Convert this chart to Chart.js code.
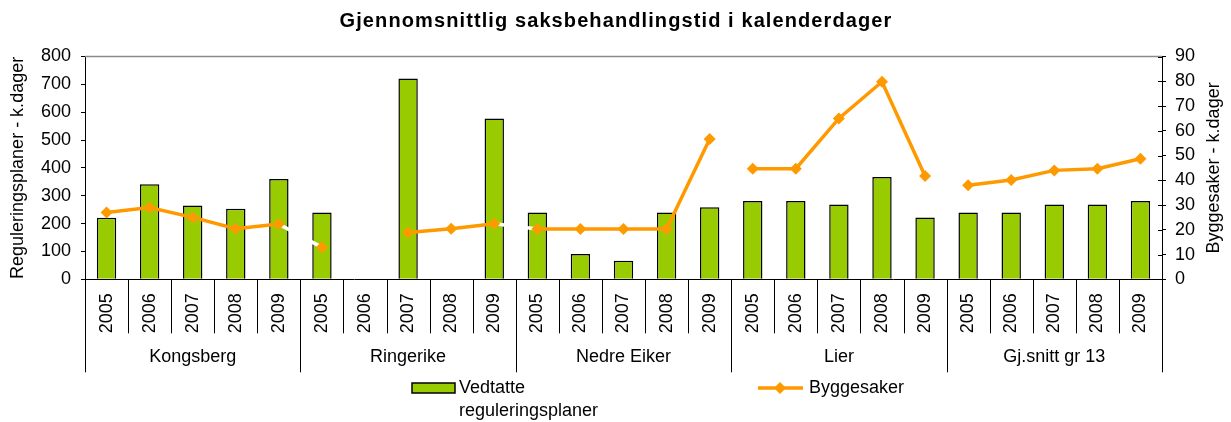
<!DOCTYPE html>
<html><head><meta charset="utf-8">
<script src="https://cdn.jsdelivr.net/npm/chart.js@4.4.1/dist/chart.umd.min.js"></script>
<style>html,body{margin:0;padding:0;background:#fff;}</style>
</head><body>
<canvas id="c" width="1231" height="422" style="display:block;width:1231px;height:422px"></canvas>
<script>
const chartTitle = 'Gjennomsnittlig saksbehandlingstid i kalenderdager';
const groups = ['Kongsberg', 'Ringerike', 'Nedre Eiker', 'Lier', 'Gj.snitt gr 13'];
const years = ['2005', '2006', '2007', '2008', '2009'];
const yearLabels = groups.flatMap(() => years);
const reguleringsplaner = [221, 341, 265, 253, 360, 240, null, 721, null, 577, 240, 91, 67, 240, 259, 281, 281, 269, 367, 222, 240, 240, 269, 269, 281];
const byggesaker = [27, 29, 25, 20.4, 22.3, 12.9, null, 18.9, 20.4, 22.4, 20.3, 20.3, 20.3, 20.3, 56.7, 44.7, 44.7, 65, 79.8, 41.7, 38, 40.1, 44, 44.7, 48.7];
const leftTitle = 'Reguleringsplaner - k.dager';
const rightTitle = 'Byggesaker - k.dager';
const legendBar = ['Vedtatte', 'reguleringsplaner'];
const legendLine = 'Byggesaker';

const FONT = '"Liberation Sans", Arial, sans-serif';
const GREEN = '#99CC00';
const ORANGE = '#FF9900';
const perGroup = years.length;

const decor = {
  id: 'decor',
  afterDraw(chart) {
    const ctx = chart.ctx;
    const ca = chart.chartArea;
    const xs = chart.scales.x;
    const y1 = chart.scales.y1;
    const half = (xs.getPixelForValue(1) - xs.getPixelForValue(0)) / 2;
    ctx.save();
    // top border
    ctx.strokeStyle = '#8a8a8a';
    ctx.lineWidth = 1.5;
    ctx.beginPath(); ctx.moveTo(ca.left, ca.top); ctx.lineTo(ca.right, ca.top); ctx.stroke();
    // right axis inner ticks
    ctx.strokeStyle = '#000'; ctx.lineWidth = 1;
    for (let v = 0; v <= 90; v += 10) {
      const py = Math.round(y1.getPixelForValue(v)) + 0.5;
      ctx.beginPath(); ctx.moveTo(ca.right - 4, py); ctx.lineTo(ca.right, py); ctx.stroke();
    }
    // category separators
    for (let i = 0; i <= yearLabels.length; i++) {
      const px = Math.round(xs.getPixelForValue(i) - half) + 0.5;
      const long = i % perGroup === 0;
      ctx.beginPath(); ctx.moveTo(px, ca.bottom); ctx.lineTo(px, ca.bottom + (long ? 93 : 54)); ctx.stroke();
    }
    // group labels
    ctx.fillStyle = '#000';
    ctx.font = '18px ' + FONT;
    ctx.textAlign = 'center'; ctx.textBaseline = 'middle';
    groups.forEach((g, gi) => {
      const a = xs.getPixelForValue(gi * perGroup) - half;
      const b = xs.getPixelForValue(gi * perGroup + perGroup - 1) + half;
      ctx.fillText(g, (a + b) / 2, ca.bottom + 78);
    });
    // right axis title
    ctx.save();
    ctx.translate(1214, (ca.top + ca.bottom) / 2);
    ctx.rotate(-Math.PI / 2);
    ctx.fillText(rightTitle, 0, 0);
    ctx.restore();
    // chart title
    ctx.font = 'bold 20px ' + FONT;
    ctx.letterSpacing = '1.1px';
    ctx.fillText(chartTitle, 616, 21);
    ctx.letterSpacing = '0px';
    // legend
    ctx.font = '18px ' + FONT;
    ctx.textAlign = 'left';
    ctx.fillStyle = GREEN; ctx.strokeStyle = '#000'; ctx.lineWidth = 1.5;
    ctx.fillRect(412, 383, 43, 10); ctx.strokeRect(412, 383, 43, 10);
    ctx.fillStyle = '#000';
    ctx.fillText(legendBar[0], 459, 388);
    ctx.fillText(legendBar[1], 459, 411);
    ctx.strokeStyle = ORANGE; ctx.lineWidth = 3.5;
    ctx.beginPath(); ctx.moveTo(758, 388); ctx.lineTo(803, 388); ctx.stroke();
    ctx.fillStyle = ORANGE;
    ctx.beginPath(); ctx.moveTo(780, 382); ctx.lineTo(786, 388); ctx.lineTo(780, 394); ctx.lineTo(774, 388); ctx.closePath(); ctx.fill();
    ctx.fillStyle = '#000';
    ctx.fillText(legendLine, 809, 388);
    ctx.restore();
  }
};

new Chart(document.getElementById('c'), {
  type: 'bar',
  data: {
    labels: yearLabels,
    datasets: [
      {
        type: 'line', label: legendLine, data: byggesaker, yAxisID: 'y1', order: 1,
        borderColor: ORANGE, borderWidth: 3.5, tension: 0, spanGaps: false,
        pointStyle: 'rectRot', pointRadius: 6, pointBackgroundColor: ORANGE, pointBorderColor: ORANGE, pointBorderWidth: 0,
        segment: {
          borderColor: c => (Math.floor(c.p0DataIndex / perGroup) !== Math.floor(c.p1DataIndex / perGroup)) ? '#ffffff' : undefined
        }
      },
      {
        type: 'bar', label: legendBar.join(' '), data: reguleringsplaner, yAxisID: 'y', order: 2,
        backgroundColor: GREEN, borderColor: '#000', borderWidth: 1.5,
        categoryPercentage: 1, barPercentage: 0.45
      }
    ]
  },
  options: {
    responsive: false,
    animation: false,
    devicePixelRatio: 1,
    layout: { padding: { top: 56.5, left: 0, right: 0, bottom: 0 } },
    plugins: { legend: { display: false }, title: { display: false }, tooltip: { enabled: false } },
    scales: {
      x: {
        type: 'category', offset: true,
        grid: { display: false, drawTicks: false },
        border: { display: true, color: '#000', width: 1 },
        ticks: { autoSkip: false, minRotation: 90, maxRotation: 90, padding: 14, color: '#000', font: { family: FONT, size: 18 } },
        afterFit(s) { s.height = 142.7; }
      },
      y: {
        position: 'left', min: 0, max: 800,
        ticks: { stepSize: 100, padding: 10, color: '#000', font: { family: FONT, size: 18 } },
        grid: { drawOnChartArea: false, drawTicks: true, tickLength: 4, color: '#000' },
        border: { display: true, color: '#000', width: 1 },
        title: { display: true, text: leftTitle, color: '#000', font: { family: FONT, size: 18 }, padding: { top: 7, bottom: 0 } },
        afterFit(s) { s.width = 85; }
      },
      y1: {
        position: 'right', min: 0, max: 90,
        ticks: { stepSize: 10, padding: 9, color: '#000', font: { family: FONT, size: 18 } },
        grid: { drawOnChartArea: false, drawTicks: true, tickLength: 4, color: '#000' },
        border: { display: true, color: '#000', width: 1 },
        afterFit(s) { s.width = 69; }
      }
    }
  },
  plugins: [decor]
});
</script>
</body></html>
